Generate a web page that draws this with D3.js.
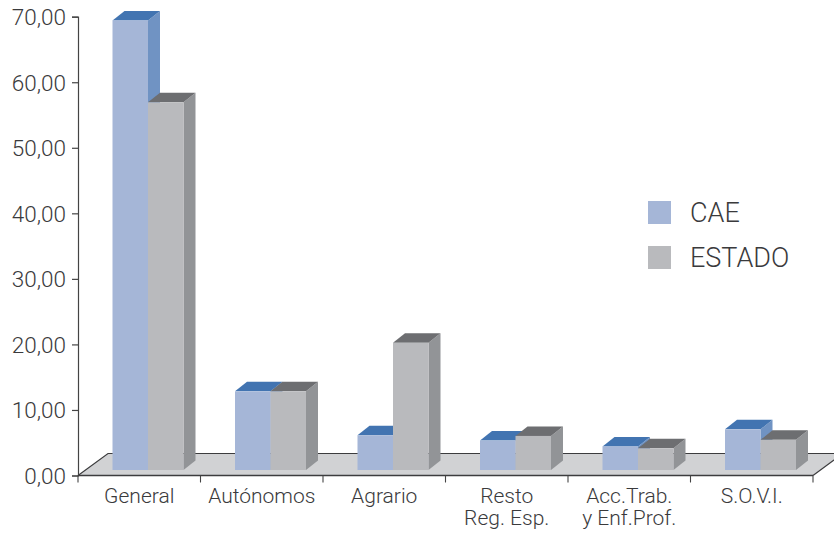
<!DOCTYPE html>
<html><head><meta charset="utf-8">
<script src="https://cdn.jsdelivr.net/npm/d3@7/dist/d3.min.js"></script>
<style>html,body{margin:0;padding:0;background:#fff}svg{display:block}
text{font-family:Roboto,"Liberation Sans",Arial,sans-serif;font-weight:300;fill:#3a3a3c}</style></head><body>
<svg id="c" width="834" height="533"></svg>
<script>
const categories = [["General"],["Autónomos"],["Agrario"],["Resto","Reg. Esp."],["Acc.Trab.","y Enf.Prof."],["S.O.V.I."]];
const seriesNames = ["CAE","ESTADO"];
const cae = [68.6,12.0,5.3,4.5,3.6,6.2];
const estado = [56.1,12.0,19.4,5.2,3.3,4.6];
const yTicks = [0,10,20,30,40,50,60,70];
const frontColors = ["#a5b6d7","#b9babd"];
const topColors = ["#4274b1","#6d6e71"];
const sideColors = ["#7093c3","#929497"];

const svg = d3.select("#c");
const y = d3.scaleLinear().domain([0,70]).range([475.5,16.7]);
const x = d3.scaleBand().domain(d3.range(categories.length)).range([78,813]);
const barW = 35.5, barShift = 8.75, baseLift = 5.5, dx = 12, dy = 9.5;
const floorDx = 30, floorDy = 22, y0 = y(0);

svg.append("polygon")
  .attr("points",[[78,y0],[78+floorDx,y0-floorDy],[813+floorDx,y0-floorDy],[813,y0]].join(" "))
  .attr("fill","#d1d2d4");
svg.append("path")
  .attr("d",`M78,${y0}L${78+floorDx},${y0-floorDy}L${813+floorDx},${y0-floorDy}M813,${y0}L${813+floorDx},${y0-floorDy}`)
  .attr("fill","none").attr("stroke","#3c3c3e").attr("stroke-width",1.2);

function box(g, left, v, s){
  const t = y(v) - baseLift, b = y0 - baseLift, r = left + barW;
  g.append("polygon").attr("points",[[r,t],[r+dx,t-dy],[r+dx,b-dy],[r,b]].join(" ")).attr("fill",sideColors[s]);
  g.append("polygon").attr("points",[[left,t],[left+dx,t-dy],[r+dx,t-dy],[r,t]].join(" ")).attr("fill",topColors[s]);
  g.append("rect").attr("x",left).attr("y",t).attr("width",barW).attr("height",b-t).attr("fill",frontColors[s]);
}
categories.forEach((c,i)=>{
  const g = svg.append("g");
  const cx = x(i) + x.bandwidth()/2 + barShift;
  box(g, cx-barW, cae[i], 0);
  box(g, cx, estado[i], 1);
});

const yAxis = d3.axisLeft(y).tickValues(yTicks).tickSize(6).tickPadding(6)
  .tickFormat(d=>d3.format(".2f")(d).replace(".",","));
const gy = svg.append("g").attr("transform","translate(78,0)").call(yAxis);
gy.attr("font-family",null).attr("font-size",null);
gy.select(".domain").attr("stroke","#444").attr("stroke-width",1.2);
gy.selectAll(".tick line").attr("stroke","#444").attr("stroke-width",1.2);
gy.selectAll("text").attr("font-size",22.5).attr("fill",null).attr("y",0.8);

const gx = svg.append("g").attr("transform",`translate(0,${y0})`);
gx.append("line").attr("x1",78).attr("x2",813).attr("stroke","#3c3c3e").attr("stroke-width",1.3);
const edges = d3.range(categories.length+1).map(i=> i<categories.length ? x(i) : x(i-1)+x.step());
gx.selectAll("line.t").data(edges).join("line").attr("class","t")
  .attr("x1",d=>d).attr("x2",d=>d).attr("y1",0).attr("y2",7).attr("stroke","#444").attr("stroke-width",1.1);
categories.forEach((c,i)=>{
  const t = gx.append("text").attr("text-anchor","middle").attr("font-size",21);
  c.forEach((line,k)=>t.append("tspan").attr("x",x(i)+x.bandwidth()/2).attr("y",27+k*22).text(line));
});

seriesNames.forEach((n,i)=>{
  const ly = 201 + i*45;
  svg.append("rect").attr("x",648).attr("y",ly).attr("width",23).attr("height",23).attr("fill",frontColors[i]);
  svg.append("text").attr("x",690).attr("y",ly+20.5).attr("font-size",27).text(n);
});
</script></body></html>
